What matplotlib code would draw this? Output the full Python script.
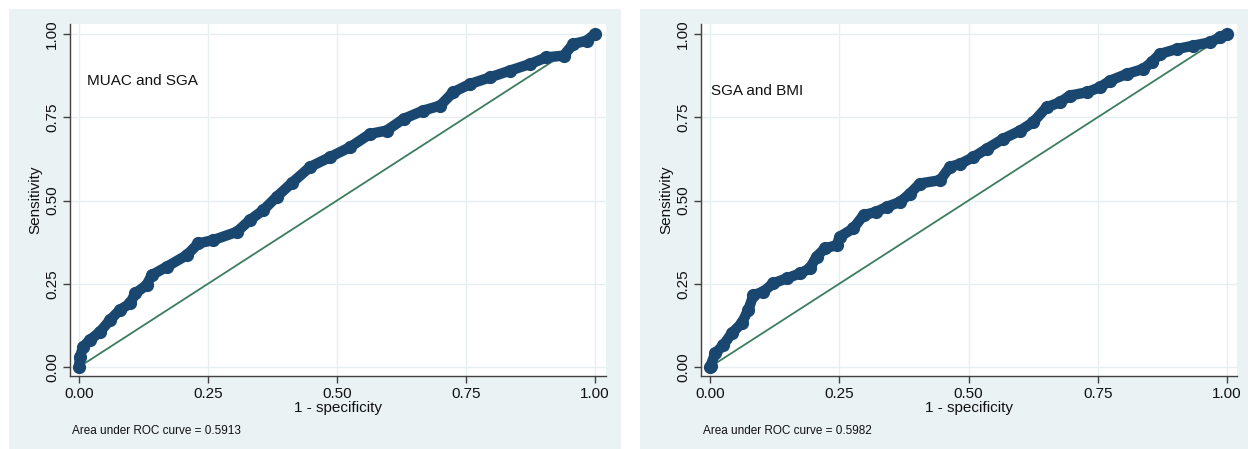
import matplotlib
matplotlib.use("Agg")
import matplotlib.pyplot as plt

plt.rcParams['font.family'] = ['Liberation Sans', 'DejaVu Sans']

# ---- data ----
left_title = "MUAC and SGA"
left_auc = "Area under ROC curve = 0.5913"
left_fpr = [0.0, 0.002, 0.008, 0.021, 0.041, 0.06, 0.079, 0.099, 0.109, 0.131, 0.141, 0.17,
            0.209, 0.231, 0.26, 0.306, 0.331, 0.357, 0.383, 0.412, 0.448, 0.486, 0.525,
            0.564, 0.596, 0.629, 0.667, 0.70, 0.725, 0.758, 0.797, 0.835, 0.874, 0.906,
            0.939, 0.958, 0.984, 1.0]
left_tpr = [0.0, 0.031, 0.061, 0.081, 0.106, 0.141, 0.171, 0.191, 0.221, 0.246, 0.276, 0.301,
            0.336, 0.371, 0.381, 0.406, 0.441, 0.471, 0.511, 0.552, 0.601, 0.63, 0.66,
            0.70, 0.71, 0.745, 0.77, 0.785, 0.825, 0.85, 0.87, 0.89, 0.91, 0.93,
            0.935, 0.97, 0.98, 1.0]

right_title = "SGA and BMI"
right_auc = "Area under ROC curve = 0.5982"
right_fpr = [0.0, 0.001, 0.01, 0.026, 0.042, 0.061, 0.074, 0.084, 0.103, 0.122, 0.148, 0.174,
             0.193, 0.206, 0.222, 0.245, 0.251, 0.277, 0.297, 0.322, 0.342, 0.368, 0.387,
             0.406, 0.445, 0.464, 0.484, 0.509, 0.535, 0.567, 0.60, 0.625, 0.651, 0.677,
             0.696, 0.729, 0.754, 0.774, 0.806, 0.838, 0.854, 0.87, 0.903, 0.935, 0.967,
             0.986, 1.0]
right_tpr = [0.0, 0.003, 0.041, 0.066, 0.101, 0.131, 0.171, 0.216, 0.226, 0.251, 0.266, 0.281,
             0.296, 0.331, 0.356, 0.366, 0.391, 0.416, 0.456, 0.466, 0.481, 0.496, 0.521,
             0.551, 0.561, 0.601, 0.61, 0.63, 0.655, 0.685, 0.71, 0.735, 0.78, 0.795,
             0.815, 0.825, 0.84, 0.86, 0.88, 0.895, 0.915, 0.94, 0.955, 0.965, 0.975,
             0.99, 1.0]

ticks = [0.0, 0.25, 0.5, 0.75, 1.0]
tick_labels = ["0.00", "0.25", "0.50", "0.75", "1.00"]
ref_line = [0.0, 1.0]

W, H = 1248, 449
fig = plt.figure(figsize=(W / 100, H / 100), dpi=100)
fig.patch.set_facecolor("white")

BG = "#EAF2F3"
NAVY = "#1A476F"
GREEN = "#3B7D5E"
AXC = "#404040"
TXT = "#111111"

def px_rect(x0, y0, x1, y1):
    return [x0 / W, (H - y1) / H, (x1 - x0) / W, (y1 - y0) / H]

panels = [
    dict(bg=(9, 9, 621, 449), ax=(70, 24, 606, 376), x0=79, x1=595,
         fpr=left_fpr, tpr=left_tpr, title=left_title, auc=left_auc,
         title_xy=(0.015, 0.86), auc_x=72),
    dict(bg=(640, 9, 1248, 449), ax=(701, 24, 1237, 376), x0=710, x1=1227,
         fpr=right_fpr, tpr=right_tpr, title=right_title, auc=right_auc,
         title_xy=(0.002, 0.83), auc_x=703),
]

for p in panels:
    bx0, by0, bx1, by1 = p["bg"]
    bgax = fig.add_axes(px_rect(bx0, by0, bx1, by1), zorder=-5)
    bgax.set_facecolor(BG)
    bgax.set_xticks([])
    bgax.set_yticks([])
    for s in bgax.spines.values():
        s.set_visible(False)

    ax0, ay0, ax1, ay1 = p["ax"]
    ax = fig.add_axes(px_rect(ax0, ay0, ax1, ay1), zorder=1)
    ax.set_facecolor("white")
    scale = (p["x1"] - p["x0"])
    ax.set_xlim((ax0 - p["x0"]) / scale, (ax1 - p["x0"]) / scale)
    ax.set_ylim((367 - ay1) / 333, (367 - ay0) / 333)

    ax.plot(ref_line, ref_line, color=GREEN, lw=1.3, zorder=2)
    ax.plot(p["fpr"], p["tpr"], color=NAVY, lw=7.5, solid_capstyle="round",
            solid_joinstyle="round", marker="o", ms=8.5, mec=NAVY, mfc=NAVY, zorder=3)

    ax.set_xticks(ticks)
    ax.set_xticklabels(tick_labels)
    ax.set_yticks(ticks)
    ax.set_yticklabels(tick_labels, rotation=90, va="center")
    ax.grid(True, color="#E6EEF0", lw=1.0)
    ax.set_axisbelow(True)
    for s in ["top", "right"]:
        ax.spines[s].set_visible(False)
    for s in ["left", "bottom"]:
        ax.spines[s].set_color(AXC)
        ax.spines[s].set_linewidth(1.0)
    ax.tick_params(axis="both", direction="out", length=5, width=1.0, color=AXC,
                   labelsize=11, labelcolor=TXT, pad=3)
    ax.set_xlabel("1 - specificity", fontsize=11, color=TXT, labelpad=0)
    ax.set_ylabel("Sensitivity", fontsize=11, color=TXT, labelpad=2)

    ax.text(p["title_xy"][0], p["title_xy"][1], p["title"], fontsize=11, color=TXT,
            va="center", ha="left")
    fig.text(p["auc_x"] / W, (H - 431) / H, p["auc"], fontsize=8.5, color=TXT,
             va="center", ha="left")

fig.savefig("out.png", dpi=100, facecolor="white")
